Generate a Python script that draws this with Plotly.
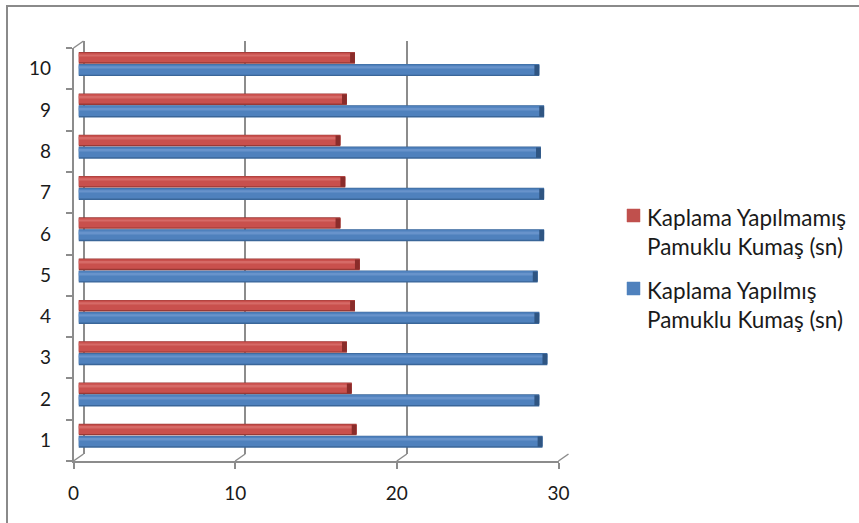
import plotly.graph_objects as go

# --- data -------------------------------------------------------------
categories = [1, 2, 3, 4, 5, 6, 7, 8, 9, 10]
uncoated = [17.2, 16.9, 16.6, 17.1, 17.4, 16.2, 16.5, 16.2, 16.6, 17.1]   # Kaplama Yapılmamış
coated = [28.7, 28.5, 29.0, 28.5, 28.4, 28.8, 28.8, 28.6, 28.8, 28.5]     # Kaplama Yapılmış
x_ticks = [0, 10, 20, 30]
legend_uncoated = ["Kaplama Yapılmamış", "Pamuklu Kumaş (sn)"]
legend_coated = ["Kaplama Yapılmış", "Pamuklu Kumaş (sn)"]

# --- geometry (pixels) --------------------------------------------------
W, H = 859, 523
FX0, FX1 = 73.5, 558.5        # front floor edge, value 0 .. 30
FYT, FYB = 48, 461            # front wall top / bottom
DX, DY = 10, -7               # depth offset front -> back
XMAX = 30

def px(x):
    return x / W

def py(y):
    return 1 - y / H

GRID = "#8c8c8c"
FONT = "Lato"
TXT = "#1a1a1a"
RED = "#c0504d"
BLUE = "#4f81bd"

fig = go.Figure()

# invisible traces anchoring the back wall (x/y) and front frame (x2/y2)
fig.add_trace(go.Scatter(x=[None], y=[None], xaxis="x", yaxis="y",
                         showlegend=False, hoverinfo="skip", mode="markers"))
fig.add_trace(go.Scatter(x=[None], y=[str(c) for c in categories], xaxis="x2", yaxis="y2",
                         showlegend=False, hoverinfo="skip", mode="markers"))

# --- cylinder-like bars: layered bars per series (mid depth, x3/y3) ------
def cylinder(values, center, thick, dark, mid, light, cap):
    lo = center - thick / 2
    layers = [
        (lo, thick, dark),
        (lo + thick * 0.12, thick * 0.83, mid),
        (lo + thick * 0.64, thick * 0.16, light),
    ]
    for off, wid, col in layers:
        fig.add_trace(go.Bar(
            y=categories, x=values, orientation="h",
            offset=off, width=wid, marker=dict(color=col, line_width=0),
            showlegend=False, hoverinfo="skip", xaxis="x3", yaxis="y3",
        ))
    # darker rounded end of each cylinder
    fig.add_trace(go.Bar(
        y=categories, x=[0.3] * len(values), base=[v - 0.3 for v in values],
        orientation="h", offset=lo + thick * 0.08, width=thick * 0.84,
        marker=dict(color=cap, line_width=0),
        showlegend=False, hoverinfo="skip", xaxis="x3", yaxis="y3",
    ))

cylinder(coated, -0.118, 0.295, "#3a6699", BLUE, "#6893cb", "#2f5582")
cylinder(uncoated, 0.176, 0.28, "#9a3936", "#c9504d", "#d66a67", "#8a2c2a")

mid_dx, mid_dy = DX / 2, DY / 2

fig.update_layout(
    width=W, height=H,
    margin=dict(l=0, r=0, t=0, b=0),
    paper_bgcolor="white", plot_bgcolor="rgba(0,0,0,0)",
    barmode="overlay",
    showlegend=False,
    font=dict(family=FONT, color=TXT),
    # back wall gridlines
    xaxis=dict(domain=[px(FX0 + DX), px(FX1 + DX)], range=[0, XMAX], anchor="y",
               tickvals=x_ticks, showgrid=True, gridcolor=GRID, gridwidth=1.5,
               zeroline=True, zerolinecolor=GRID, zerolinewidth=1.5,
               showticklabels=False, ticks="", showline=False, automargin=False),
    yaxis=dict(domain=[py(FYB + DY), py(FYT + DY)], anchor="x", range=[0, 1],
               showgrid=False, zeroline=False, showticklabels=False, ticks="",
               showline=False, automargin=False),
    # front frame with tick labels
    xaxis2=dict(domain=[px(FX0), px(FX1)], range=[0, XMAX], anchor="y2",
                tickvals=x_ticks, showgrid=False, zeroline=False,
                showline=True, linecolor=GRID, linewidth=1.5,
                ticks="outside", ticklen=6, tickcolor=GRID, tickwidth=1.5,
                tickfont=dict(size=19, color=TXT), ticklabelstandoff=8,
                automargin=False),
    yaxis2=dict(domain=[py(FYB), py(FYT)], anchor="x2", type="category",
                categoryorder="array", categoryarray=[str(c) for c in categories],
                range=[-0.5, 9.5], tickson="boundaries", showgrid=False,
                showline=True, linecolor=GRID, linewidth=1.5,
                ticks="outside", ticklen=6, tickcolor=GRID, tickwidth=1.5,
                tickfont=dict(size=19, color=TXT), ticklabelstandoff=17,
                automargin=False),
    # mid-depth axes carrying the bars
    xaxis3=dict(domain=[px(FX0 + mid_dx), px(FX1 + mid_dx)], range=[0, XMAX],
                visible=False, anchor="y3", automargin=False),
    yaxis3=dict(domain=[py(FYB + mid_dy), py(FYT + mid_dy)], range=[0.5, 10.5],
                visible=False, anchor="x3", automargin=False),
)

# depth connectors of the floor and left wall
shapes = []
for v in x_ticks:
    xf = FX0 + (FX1 - FX0) * v / XMAX
    shapes.append(dict(type="line", xref="paper", yref="paper",
                       x0=px(xf), y0=py(FYB), x1=px(xf + DX), y1=py(FYB + DY),
                       line=dict(color=GRID, width=1.5)))
shapes.append(dict(type="line", xref="paper", yref="paper",
                   x0=px(FX0), y0=py(FYT), x1=px(FX0 + DX), y1=py(FYT + DY),
                   line=dict(color=GRID, width=1.5)))
# chart area border
shapes.append(dict(type="rect", xref="paper", yref="paper",
                   x0=px(7), y0=py(6), x1=px(W + 20), y1=py(H + 20),
                   line=dict(color="#8a8a8a", width=2), layer="below"))

# legend: colour keys and two-line labels
annotations = []
for (lines, col, top) in [(legend_uncoated, RED, 209), (legend_coated, BLUE, 282)]:
    shapes.append(dict(type="rect", xref="paper", yref="paper",
                       x0=px(627), x1=px(640), y0=py(top), y1=py(top + 13),
                       fillcolor=col, line=dict(color=col, width=0.5)))
    for i, line in enumerate(lines):
        annotations.append(dict(xref="paper", yref="paper", x=px(645), y=py(top + 8 + 29 * i),
                                xanchor="left", yanchor="middle", showarrow=False,
                                text=line, font=dict(size=22.5, color=TXT, family=FONT)))

fig.update_layout(shapes=shapes, annotations=annotations)

fig.write_html("out.html")
